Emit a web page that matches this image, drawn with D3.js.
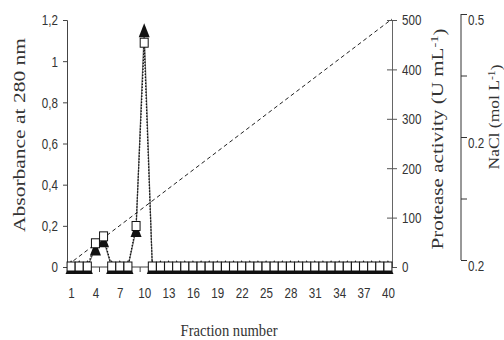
<!DOCTYPE html>
<html>
<head>
<meta charset="utf-8">
<script src="https://cdn.jsdelivr.net/npm/d3@7"></script>
<style>
  html, body { margin: 0; padding: 0; background: #fff; }
  svg { display: block; }
  .tick text { font-family: "Liberation Sans", Arial, sans-serif; font-size: 13.5px; fill: #333; }
  .ttl { font-family: "Liberation Serif", "Times New Roman", serif; fill: #333; }
</style>
</head>
<body>
<svg id="chart" width="504" height="340"></svg>
<script>
// ---------- data ----------
const fractions = d3.range(1, 41);
const absorbance = [0,0,0,0.09,0.13,0,0,0,0.18,1.15,
                    0,0,0,0,0,0,0,0,0,0,
                    0,0,0,0,0,0,0,0,0,0,
                    0,0,0,0,0,0,0,0,0,0];
const protease = [0,0,0,47,61,0,0,0,82,453,
                  0,0,0,0,0,0,0,0,0,0,
                  0,0,0,0,0,0,0,0,0,0,
                  0,0,0,0,0,0,0,0,0,0];
const gradientFractions = [0.6, 40.5];
const gradientNaCl = [0, 0.5];

const xTickValues = [1,4,7,10,13,16,19,22,25,28,31,34,37,40];
const xMinorTicks = [4.5,9.5,14.5,19.5,24.5,29.5,34.5,39.5];
const absTicks = [0,0.2,0.4,0.6,0.8,1,1.2];
const absTickLabels = ["0","0,2","0,4","0,6","0,8","1","1,2"];
const protTicks = [0,100,200,300,400,500];
const naclTickIdx = [0,1,2,3,4];
const naclTickLabels = ["0.2","","0.2","","0.5"];

// ---------- scales ----------
const svg = d3.select("#chart");
const x = d3.scaleLinear().domain([0.5, 40.5]).range([67, 392]);
const yAbs = d3.scaleLinear().domain([0, 1.2]).range([267, 20]);
const yProt = d3.scaleLinear().domain([0, 500]).range([267, 20]);
const yNaCl = d3.scaleLinear().domain([0, 0.5]).range([265, 19]);
const yNaClAxis = d3.scaleLinear().domain([0, 4]).range([260, 14]);

// condensed look for tick labels
const SX = 0.86, SY = 1.12;
function condense(sel) {
  sel.each(function() {
    const t = d3.select(this);
    const xx = +t.attr("x") || 0, yy = +t.attr("y") || 0;
    t.attr("x", xx / SX).attr("y", yy / SY).attr("transform", `scale(${SX},${SY})`);
  });
}

// ---------- axes ----------
const axCol = "#444";
const gx = svg.append("g").attr("transform", "translate(0,267)")
  .call(d3.axisBottom(x).tickValues(xTickValues).tickSize(0).tickPadding(21).tickFormat(d3.format("d")));
gx.select(".domain").attr("stroke", axCol).attr("d", "M67,0H392");
gx.selectAll(".tick text").attr("dy", "0.35em").attr("y", 26).call(condense);
svg.append("g").selectAll("line").data(xMinorTicks).join("line")
  .attr("x1", d => x(d)).attr("x2", d => x(d)).attr("y1", 267).attr("y2", 272)
  .attr("stroke", axCol);

const gl = svg.append("g").attr("transform", "translate(67,0)")
  .call(d3.axisLeft(yAbs).tickValues(absTicks).tickSize(4).tickPadding(5)
    .tickFormat((d, i) => absTickLabels[i]));
gl.select(".domain").attr("stroke", axCol);
gl.selectAll(".tick line").attr("stroke", axCol);
gl.selectAll(".tick text").call(condense);

const gr = svg.append("g").attr("transform", "translate(392,0)")
  .call(d3.axisRight(yProt).tickValues(protTicks).tickSize(5).tickPadding(5));
gr.select(".domain").attr("stroke", "#666");
gr.selectAll(".tick line").attr("stroke", "#555").attr("x1", -5);
gr.selectAll(".tick text").call(condense);

const gn = svg.append("g").attr("transform", "translate(461,0)")
  .call(d3.axisRight(yNaClAxis).tickValues(naclTickIdx).tickSize(6).tickPadding(1)
    .tickFormat((d, i) => naclTickLabels[i]));
gn.select(".domain").attr("stroke", "#333").attr("d", "M0,14V260");
gn.selectAll(".tick line").attr("stroke", "#333");
gn.selectAll(".tick text").attr("dy", "0.7em").attr("font-size", "14px").call(condense);

// ---------- titles ----------
svg.append("text").attr("class", "ttl")
  .attr("transform", "translate(25,135) rotate(-90)")
  .attr("text-anchor", "middle").attr("font-size", "16px")
  .attr("textLength", 194).attr("lengthAdjust", "spacingAndGlyphs")
  .text("Absorbance at 280 nm");

const tp = svg.append("text").attr("class", "ttl")
  .attr("transform", "translate(443,139) rotate(-90)")
  .attr("text-anchor", "middle").attr("font-size", "16px")
  .attr("textLength", 221).attr("lengthAdjust", "spacingAndGlyphs");
tp.append("tspan").text("Protease activity (U mL");
tp.append("tspan").attr("dy", "-0.45em").attr("font-size", "11px").text("-1");
tp.append("tspan").attr("dy", "0.45em").text(")");

const tn = svg.append("text").attr("class", "ttl")
  .attr("transform", "translate(499,117) rotate(-90)")
  .attr("text-anchor", "middle").attr("font-size", "15px")
  .attr("textLength", 105).attr("lengthAdjust", "spacingAndGlyphs");
tn.append("tspan").text("NaCl (mol L");
tn.append("tspan").attr("dy", "-0.45em").attr("font-size", "10px").text("-1");
tn.append("tspan").attr("dy", "0.45em").text(")");

svg.append("text").attr("class", "ttl")
  .attr("x", 229).attr("y", 336).attr("text-anchor", "middle")
  .attr("font-size", "16px").attr("textLength", 97).attr("lengthAdjust", "spacingAndGlyphs")
  .text("Fraction number");

// ---------- marks ----------
const grad = gradientFractions.map((f, i) => [f, gradientNaCl[i]]);
svg.append("path").datum(grad)
  .attr("d", d3.line().x(d => x(d[0])).y(d => yNaCl(d[1])))
  .attr("fill", "none").attr("stroke", "#222").attr("stroke-width", 1)
  .attr("stroke-dasharray", "4,3");

svg.append("path").datum(fractions)
  .attr("d", d3.line().x(f => x(f)).y((f, i) => yAbs(absorbance[i])))
  .attr("fill", "none").attr("stroke", "#777").attr("stroke-width", 1.2);

svg.append("path").datum(fractions)
  .attr("d", d3.line().x(f => x(f)).y((f, i) => yProt(protease[i])))
  .attr("fill", "none").attr("stroke", "#111").attr("stroke-width", 1.3)
  .attr("stroke-dasharray", "1.5,1.5");

// triangles (absorbance)
svg.append("g").selectAll("path").data(fractions).join("path")
  .attr("transform", (f, i) => `translate(${x(f)},${yAbs(absorbance[i])})`)
  .attr("d", "M0,-7L5.5,7L-5.5,7Z")
  .attr("fill", "#111");

// squares (protease)
svg.append("g").selectAll("rect").data(fractions).join("rect")
  .attr("x", f => x(f) - 4)
  .attr("y", (f, i) => yProt(protease[i]) - 5)
  .attr("width", 8).attr("height", 9)
  .attr("fill", "#fff").attr("stroke", "#111").attr("stroke-width", 1);
</script>
</body>
</html>
